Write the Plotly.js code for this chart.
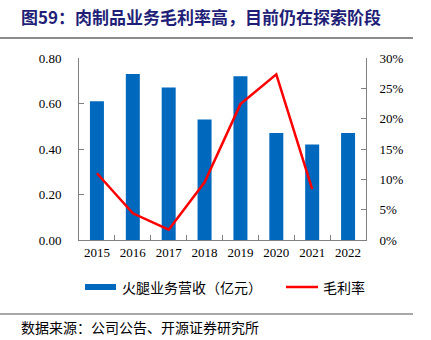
<!DOCTYPE html>
<html><head><meta charset="utf-8">
<script src="https://cdn.plot.ly/plotly-3.0.1.min.js"></script>
<style>html,body{margin:0;padding:0;background:#fff;}#c{width:431px;height:340px;}</style>
</head><body><div id="c"></div>
<script>
const years = ['2015','2016','2017','2018','2019','2020','2021','2022'];
const revenue = [0.61, 0.73, 0.67, 0.53, 0.72, 0.47, 0.42, 0.47];
const marginYears = ['2015','2016','2017','2018','2019','2020','2021'];
const grossMargin = [0.110, 0.044, 0.017, 0.095, 0.224, 0.273, 0.084];
const leftTicks = [0, 0.2, 0.4, 0.6, 0.8];
const rightTicks = [0, 0.05, 0.10, 0.15, 0.20, 0.25, 0.30];

const cjk = '"Noto Sans CJK SC", sans-serif';
const serif = '"Liberation Serif", "Times New Roman", serif';
const axisColor = '#808080';

const traces = [
  {type:'bar', x:years, y:revenue, name:'火腿业务营收（亿元）', marker:{color:'#0069be'}, width:0.39, showlegend:false},
  {type:'scatter', mode:'lines', x:marginYears, y:grossMargin, yaxis:'y2', name:'毛利率', line:{color:'#ff0000', width:2.5}, showlegend:false}
];

const layout = {
  width:431, height:340,
  margin:{l:79, r:65, t:58, b:100},
  paper_bgcolor:'#fff', plot_bgcolor:'#fff',
  font:{family:serif, size:13, color:'#000'},
  xaxis:{type:'category', range:[-0.5,7.5], showline:true, linecolor:axisColor, linewidth:1,
         ticks:'inside', tickson:'boundaries', ticklen:5, tickcolor:axisColor, showgrid:false, zeroline:false,
         tickfont:{family:serif, size:13}},
  yaxis:{range:[0,0.8], tickvals:leftTicks, tickformat:'.2f', showline:true, linecolor:axisColor, linewidth:1,
         ticks:'inside', ticklen:5, tickcolor:axisColor, showgrid:false, zeroline:false, ticklabelstandoff:14,
         tickfont:{family:serif, size:13}},
  yaxis2:{overlaying:'y', side:'right', range:[0,0.3], tickvals:rightTicks, tickformat:'.0%', showline:true,
          linecolor:axisColor, linewidth:1, ticks:'inside', ticklen:5, tickcolor:axisColor, showgrid:false, zeroline:false,
          ticklabelstandoff:10, tickfont:{family:serif, size:13}},
  shapes:[
    {type:'line', xref:'paper', yref:'paper', x0:-79/287, x1:(413-79)/287, y0:(340-100-38)/182, y1:(340-100-38)/182, line:{color:'#8c8c8c', width:2}},
    {type:'line', xref:'paper', yref:'paper', x0:-79/287, x1:(413-79)/287, y0:(340-100-314)/182, y1:(340-100-314)/182, line:{color:'#8c8c8c', width:1.5}},
    {type:'rect', xref:'paper', yref:'paper', x0:(85-79)/287, x1:(116-79)/287, y0:(240-290)/182, y1:(240-284)/182, fillcolor:'#0069be', line:{width:0}},
    {type:'line', xref:'paper', yref:'paper', x0:(286-79)/287, x1:(318-79)/287, y0:(240-287)/182, y1:(240-287)/182, line:{color:'#ff0000', width:2.5}}
  ],
  annotations:[
    {xref:'paper', yref:'paper', x:(19-79)/287, y:(240-17)/182, xanchor:'left', yanchor:'middle', showarrow:false,
     text:'<b>图59：肉制品业务毛利率高，目前仍在探索阶段</b>', font:{family:cjk, size:17, color:'#1f1f78'}},
    {xref:'paper', yref:'paper', x:(120-79)/287, y:(240-287)/182, xanchor:'left', yanchor:'middle', showarrow:false,
     text:'火腿业务营收（亿元）', font:{family:cjk, size:14, color:'#000'}},
    {xref:'paper', yref:'paper', x:(321-79)/287, y:(240-287)/182, xanchor:'left', yanchor:'middle', showarrow:false,
     text:'毛利率', font:{family:cjk, size:14, color:'#000'}},
    {xref:'paper', yref:'paper', x:(19-79)/287, y:(240-327)/182, xanchor:'left', yanchor:'middle', showarrow:false,
     text:'数据来源：公司公告、开源证券研究所', font:{family:cjk, size:14, color:'#000'}}
  ]
};
Plotly.newPlot('c', traces, layout, {staticPlot:true, displayModeBar:false});
</script></body></html>
